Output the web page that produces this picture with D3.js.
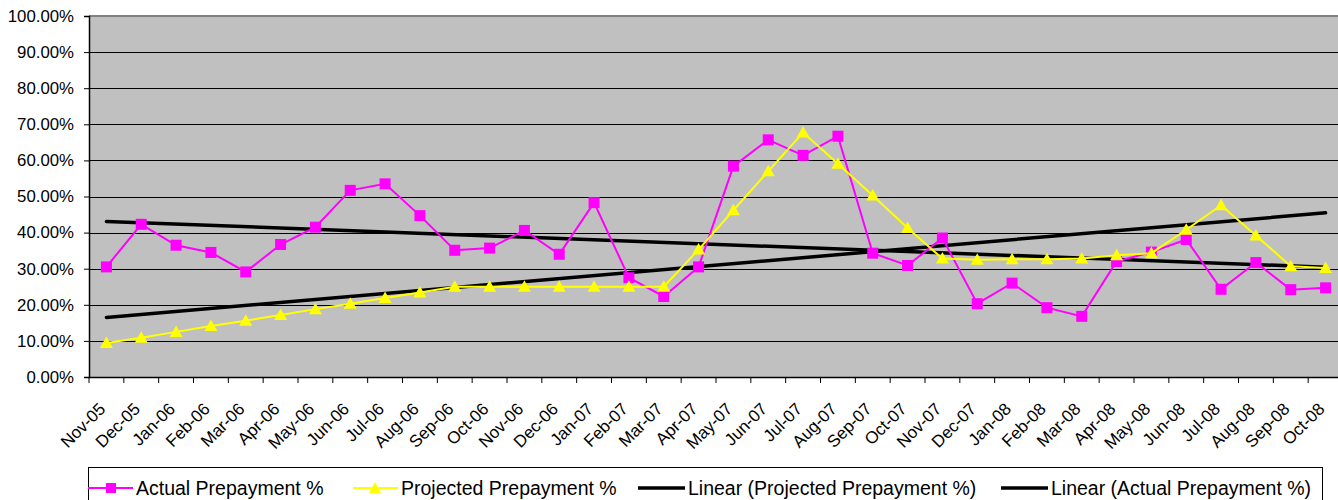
<!DOCTYPE html>
<html>
<head>
<meta charset="utf-8">
<script src="https://cdn.jsdelivr.net/npm/d3@7"></script>
<style>
  html, body { margin: 0; padding: 0; background: #fff; overflow: hidden; }
  text { font-family: "Liberation Sans", Arial, sans-serif; fill: #000; }
</style>
</head>
<body>
<script>
const months = ['Nov-05', 'Dec-05', 'Jan-06', 'Feb-06', 'Mar-06', 'Apr-06', 'May-06', 'Jun-06',
  'Jul-06', 'Aug-06', 'Sep-06', 'Oct-06', 'Nov-06', 'Dec-06', 'Jan-07', 'Feb-07', 'Mar-07',
  'Apr-07', 'May-07', 'Jun-07', 'Jul-07', 'Aug-07', 'Sep-07', 'Oct-07', 'Nov-07', 'Dec-07',
  'Jan-08', 'Feb-08', 'Mar-08', 'Apr-08', 'May-08', 'Jun-08', 'Jul-08', 'Aug-08', 'Sep-08', 'Oct-08']

// percent values
const actual = [30.5, 42.3, 36.5, 34.5, 29.1, 36.7, 41.5, 51.7, 53.5, 44.7, 35.1, 35.7,
  40.6, 34.0, 48.3, 27.5, 22.3, 30.5, 58.4, 65.7, 61.4, 66.7, 34.3, 30.9,
  38.5, 20.3, 26.0, 19.2, 16.8, 32.0, 34.6, 38.1, 24.3, 31.7, 24.2, 24.7]

const projected = [9.4, 10.9, 12.5, 14.1, 15.6, 17.2, 18.8, 20.3, 21.9, 23.4, 25.0, 25.0,
  25.0, 25.0, 25.0, 25.0, 25.0, 35.3, 46.2, 57.0, 67.7, 59.1, 50.3, 41.3,
  32.8, 32.5, 32.6, 32.6, 32.8, 33.7, 34.3, 40.8, 47.6, 39.2, 30.7, 30.2]

const yTicks = [0, 10, 20, 30, 40, 50, 60, 70, 80, 90, 100]

const legendItems = [
  { label: 'Actual Prepayment %', kind: 'square' },
  { label: 'Projected Prepayment %', kind: 'triangle' },
  { label: 'Linear (Projected Prepayment %)', kind: 'trend' },
  { label: 'Linear (Actual Prepayment %)', kind: 'trend' },
]

const width = 1338
const height = 500
const plot = { left: 89, right: 1343, top: 16, bottom: 377 }

const svg = d3.select('body').append('svg')
  .attr('width', width)
  .attr('height', height)

const x = d3.scaleBand()
  .domain(months)
  .range([plot.left, plot.right])

const y = d3.scaleLinear()
  .domain([0, 100])
  .range([plot.bottom, plot.top])

const cx = m => x(m) + x.bandwidth() / 2

// least squares fit over month index, like Excel's linear trendline
const trend = (values) => {
  const xs = values.map((v, i) => i + 1)
  const mx = d3.mean(xs)
  const my = d3.mean(values)
  const slope = d3.sum(xs, (xi, i) => (xi - mx) * (values[i] - my)) / d3.sum(xs, xi => (xi - mx) ** 2)
  return xs.map(xi => my + slope * (xi - mx))
}

// plot area
svg.append('rect')
  .attr('x', plot.left)
  .attr('y', plot.top)
  .attr('width', plot.right - plot.left)
  .attr('height', plot.bottom - plot.top)
  .attr('fill', '#c0c0c0')

svg.append('g')
  .selectAll('line')
  .data(yTicks.filter(t => t > 0 && t < 100))
  .enter()
  .append('line')
  .attr('x1', plot.left)
  .attr('x2', plot.right)
  .attr('y1', t => Math.round(y(t)) + 0.5)
  .attr('y2', t => Math.round(y(t)) + 0.5)
  .attr('stroke', '#000')
  .attr('stroke-width', 1)

svg.append('line')
  .attr('x1', plot.left)
  .attr('x2', plot.right)
  .attr('y1', y(100))
  .attr('y2', y(100))
  .attr('stroke', '#808080')
  .attr('stroke-width', 2)

// y axis
const yAxis = svg.append('g')
  .attr('transform', `translate(${plot.left},0)`)
  .call(d3.axisLeft(y).tickValues(yTicks).tickSize(5).tickPadding(10)
    .tickFormat(d => `${d.toFixed(2)}%`))
yAxis.select('.domain').attr('stroke', '#000').attr('stroke-width', 1.5)
yAxis.selectAll('line').attr('stroke', '#000')
yAxis.selectAll('text').attr('font-size', '16.8px').attr('font-family', null)

// x axis
const xAxis = svg.append('g')
  .attr('transform', `translate(0,${plot.bottom})`)
  .call(d3.axisBottom(x).tickSize(0).tickFormat(''))
xAxis.select('.domain').attr('stroke', '#000').attr('stroke-width', 1.5)

svg.append('g')
  .selectAll('line')
  .data(d3.range(months.length + 1))
  .enter()
  .append('line')
  .attr('x1', i => plot.left + i * x.step())
  .attr('x2', i => plot.left + i * x.step())
  .attr('y1', plot.bottom)
  .attr('y2', plot.bottom + 6)
  .attr('stroke', '#000')

svg.append('g')
  .selectAll('text')
  .data(months)
  .enter()
  .append('text')
  .attr('transform', m => `translate(${cx(m)},${plot.bottom + 33}) rotate(-45)`)
  .attr('text-anchor', 'end')
  .attr('font-size', '17px')
  .text(m => m)

const plotG = svg.append('g')

// trendlines
plotG.selectAll('.trend')
  .data([trend(projected), trend(actual)])
  .enter()
  .append('line')
  .attr('class', 'trend')
  .attr('x1', cx(months[0]))
  .attr('x2', cx(months[months.length - 1]))
  .attr('y1', d => y(d[0]))
  .attr('y2', d => y(d[d.length - 1]))
  .attr('stroke', '#000')
  .attr('stroke-width', 3.5)
  .attr('stroke-linecap', 'round')

const seriesLine = d3.line().x((v, i) => cx(months[i])).y(v => y(v))
const triangle = 'M0,-6.5L6.5,5L-6.5,5Z'

// actual
plotG.append('path')
  .attr('d', seriesLine(actual))
  .attr('fill', 'none')
  .attr('stroke', '#ff00ff')
  .attr('stroke-width', 2)
plotG.append('g')
  .selectAll('rect')
  .data(actual)
  .enter()
  .append('rect')
  .attr('x', (v, i) => cx(months[i]) - 5.5)
  .attr('y', v => y(v) - 5.5)
  .attr('width', 11)
  .attr('height', 11)
  .attr('fill', '#ff00ff')

// projected
plotG.append('path')
  .attr('d', seriesLine(projected))
  .attr('fill', 'none')
  .attr('stroke', '#ffff00')
  .attr('stroke-width', 2)
plotG.append('g')
  .selectAll('path')
  .data(projected)
  .enter()
  .append('path')
  .attr('d', triangle)
  .attr('transform', (v, i) => `translate(${cx(months[i])},${y(v)})`)
  .attr('fill', '#ffff00')

// legend
const legend = svg.append('g')
legend.append('rect')
  .attr('x', 88.5)
  .attr('y', 467.5)
  .attr('width', 1234)
  .attr('height', 42)
  .attr('fill', '#fff')
  .attr('stroke', '#000')
  .attr('stroke-width', 1)

const legendX = [88, 353, 638, 1001]
const ly = 488
legendItems.forEach((item, i) => {
  const g = legend.append('g').attr('transform', `translate(${legendX[i]},${ly})`)
  const color = item.kind === 'square' ? '#ff00ff' : item.kind === 'triangle' ? '#ffff00' : '#000'
  g.append('line')
    .attr('x1', 0).attr('x2', item.kind === 'trend' ? 47 : 45)
    .attr('stroke', color)
    .attr('stroke-width', item.kind === 'trend' ? 3.5 : 2)
  if (item.kind === 'square') {
    g.append('rect').attr('x', 18).attr('y', -5).attr('width', 10).attr('height', 10).attr('fill', color)
  } else if (item.kind === 'triangle') {
    g.append('path').attr('d', 'M0,-6L6,5L-6,5Z').attr('transform', 'translate(22,0)').attr('fill', color)
  }
  g.append('text')
    .attr('x', item.kind === 'trend' ? 50 : 48)
    .attr('dy', '0.36em')
    .attr('font-size', '19.5px')
    .text(item.label)
})
</script>
</body>
</html>
